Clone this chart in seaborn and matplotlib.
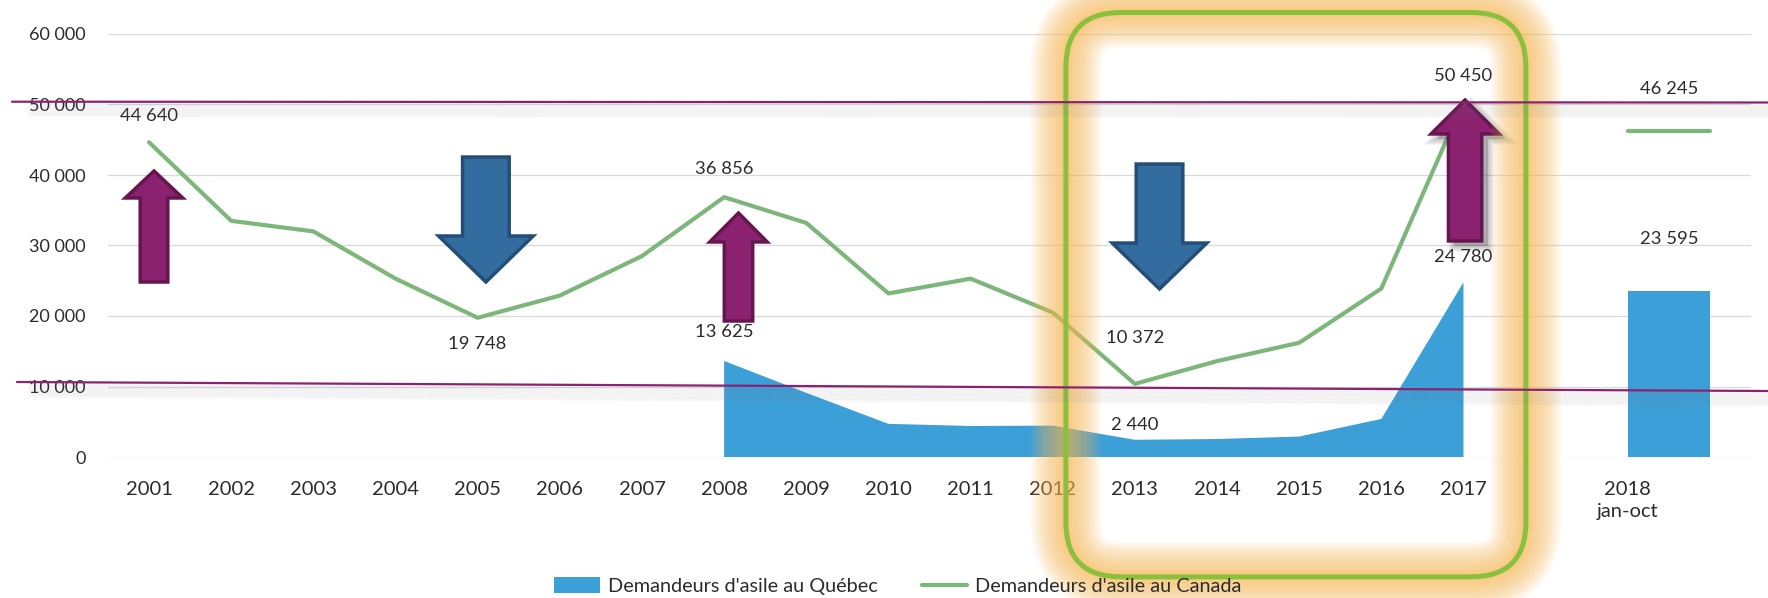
import numpy as np
import pandas as pd
import matplotlib.pyplot as plt
import matplotlib.transforms as mtransforms
from matplotlib.patches import Polygon, FancyBboxPatch, Patch
from matplotlib.lines import Line2D
import seaborn as sns

# données
years = ['2001', '2002', '2003', '2004', '2005', '2006', '2007', '2008', '2009', '2010',
         '2011', '2012', '2013', '2014', '2015', '2016', '2017', '', '2018\njan-oct', '']
nan = np.nan
canada = [44640, 33500, 32000, 25300, 19748, 22900, 28500, 36856, 33200, 23200,
          25300, 20500, 10372, 13600, 16200, 23900, 50450, nan, 46245, 46245]
quebec = [nan, nan, nan, nan, nan, nan, nan, 13625, 9100, 4700,
          4400, 4450, 2440, 2550, 2900, 5400, 24780, nan, 23595, 23595]
seg = [0] * 17 + [1, 2, 2]

canada_labels = [0, 4, 7, 12, 16]
quebec_labels = [7, 12, 16]

blue = '#3C9FD8'
green = '#7CB67A'
purple = '#8B2270'
purple_dark = '#65164F'
steel = '#336C9E'
steel_dark = '#244E77'
txt = '#2B2B2B'

sns.set_style('white')
plt.rcParams['font.family'] = ['Lato', 'DejaVu Sans']

fig = plt.figure(figsize=(17.68, 5.98), dpi=100)
ax = fig.add_axes([108 / 1768, 1 - 457 / 598, (1751 - 108) / 1768, (457 - 34) / 598])

x = np.arange(len(years))
df = pd.DataFrame({'x': x, 'canada': canada, 'seg': seg}).dropna()

q = np.array(quebec, dtype=float)
ax.fill_between(x, 0, np.nan_to_num(q), where=~np.isnan(q), color=blue, lw=0, zorder=2)
sns.lineplot(data=df, x='x', y='canada', units='seg', estimator=None, color=green,
             lw=3.0, solid_capstyle='round', ax=ax, zorder=3, legend=False)

ax.set_xlim(-0.5, len(years) - 0.5)
ax.set_ylim(0, 60000)
ax.set_yticks(range(0, 60001, 10000))
ax.set_yticklabels([f'{v:,}'.replace(',', ' ') for v in range(0, 60001, 10000)])
ax.set_xticks(x)
ax.set_xticklabels(years, linespacing=1.35)
ax.tick_params(axis='y', length=0, pad=16, labelsize=13, labelcolor=txt)
ax.tick_params(axis='x', length=0, pad=17, labelsize=14.5, labelcolor=txt)
ax.yaxis.grid(True, color='#D9D9D9', lw=0.9)
ax.set_axisbelow(True)
ax.set_xlabel('')
ax.set_ylabel('')
sns.despine(ax=ax, left=True, bottom=True)

fmt = lambda v: f'{int(v):,}'.replace(',', ' ')

# étiquettes de données
offs_c = {0: 19, 4: -19, 7: 20, 12: 33, 16: 18}
for i in canada_labels:
    ax.annotate(fmt(canada[i]), (x[i], canada[i]), xytext=(0, offs_c[i]),
                textcoords='offset points', ha='center', va='center',
                fontsize=13.3, color=txt, zorder=7)
offs_q = {7: 21, 12: 11, 16: 18}
for i in quebec_labels:
    ax.annotate(fmt(quebec[i]), (x[i], quebec[i]), xytext=(0, offs_q[i]),
                textcoords='offset points', ha='center', va='center',
                fontsize=13.3, color=txt, zorder=7)
ax.annotate(fmt(canada[18]), (18.5, canada[18]), xytext=(0, 30),
            textcoords='offset points', ha='center', va='center', fontsize=13.3, color=txt)
ax.annotate(fmt(quebec[18]), (18.5, quebec[18]), xytext=(0, 37),
            textcoords='offset points', ha='center', va='center', fontsize=13.3, color=txt)

# cadre arrondi avec halo
def to_in(px, py):
    d = ax.transData.transform((px, py))
    return d / fig.dpi

(x0, y0) = to_in(11.16, -17000)
(x1, y1) = to_in(16.76, 63050)
for lw in range(50, 5, -4):
    fig.add_artist(FancyBboxPatch((x0, y0), x1 - x0, y1 - y0,
                                  boxstyle='round,pad=0,rounding_size=0.55',
                                  fc='none', ec='#F8B84E', lw=lw, alpha=0.085,
                                  transform=fig.dpi_scale_trans, zorder=4))
fig.add_artist(FancyBboxPatch((x0, y0), x1 - x0, y1 - y0,
                              boxstyle='round,pad=0,rounding_size=0.55',
                              fc='none', ec='#8BC03C', lw=3.6,
                              transform=fig.dpi_scale_trans, zorder=5))

# flèches
def arrow(xc, y_tail, y_head, y_tip, hw_shaft, hw_head, fc, ec, shadow=False):
    verts = [(xc - hw_shaft, y_tail), (xc - hw_shaft, y_head), (xc - hw_head, y_head),
             (xc, y_tip), (xc + hw_head, y_head), (xc + hw_shaft, y_head),
             (xc + hw_shaft, y_tail)]
    if shadow:
        tr = mtransforms.offset_copy(ax.transData, fig=fig, x=6, y=-5, units='dots')
        for k, a in enumerate([0.12, 0.12, 0.12]):
            ax.add_patch(Polygon(verts, closed=True, fc='#555555', ec='#555555',
                                 lw=2 + 3 * k, alpha=a, transform=tr, clip_on=False, zorder=6))
    ax.add_patch(Polygon(verts, closed=True, fc=fc, ec=ec, lw=2.5, joinstyle='miter',
                         clip_on=False, zorder=6))

arrow(0.06, 24820, 36740, 40570, 0.168, 0.35, purple, purple_dark)
arrow(4.10, 42550, 31350, 24820, 0.284, 0.576, steel, steel_dark)
arrow(7.175, 19290, 30500, 34610, 0.173, 0.35, purple, purple_dark)
arrow(12.30, 41560, 30350, 23830, 0.284, 0.576, steel, steel_dark)
arrow(16.02, 30640, 45820, 50640, 0.203, 0.415, purple, purple_dark, shadow=True)

# lignes horizontales violettes avec ombre
for (xa, ya, yb) in [(12, 101.7, 102.5), (17, 382, 391)]:
    for k in range(2, 15, 2):
        tr = mtransforms.offset_copy(fig.transFigure, fig=fig, y=-k, units='dots')
        fig.add_artist(Line2D([30 / 1768, 1], [1 - ya / 598, 1 - yb / 598], color='#808080',
                              lw=2.5, alpha=0.05, transform=tr, zorder=8))
    fig.add_artist(Line2D([xa / 1768, 1], [1 - ya / 598, 1 - yb / 598], color=purple,
                          lw=1.6, transform=fig.transFigure, zorder=9))

# légende
handles = [Patch(fc=blue, ec='none'), Line2D([], [], color=green, lw=3.0, solid_capstyle='round')]
fig.legend(handles, ["Demandeurs d'asile au Québec", "Demandeurs d'asile au Canada"],
           loc='center', bbox_to_anchor=(898 / 1768, 1 - 586 / 598), ncol=2,
           frameon=False, fontsize=14.3, handlelength=2.3, handleheight=0.85,
           handletextpad=0.4, columnspacing=2.2, labelcolor=txt)

fig.savefig('out.png', dpi=100)
